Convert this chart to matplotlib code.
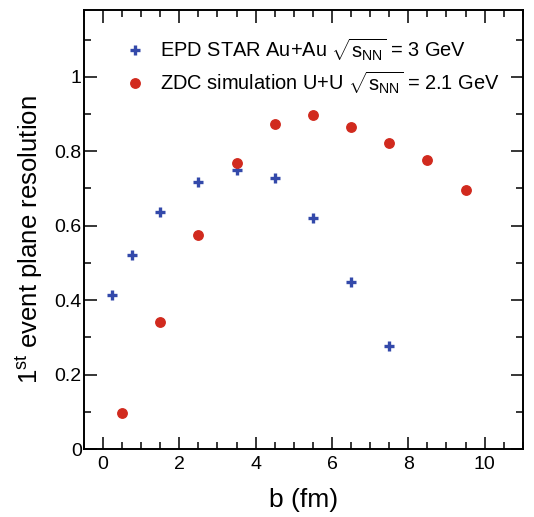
import numpy as np
import matplotlib
matplotlib.use("Agg")
import matplotlib.pyplot as plt
from matplotlib.ticker import MultipleLocator, FuncFormatter

plt.rcParams["font.family"] = ["Liberation Sans", "DejaVu Sans"]
plt.rcParams["mathtext.fontset"] = "custom"
plt.rcParams["mathtext.rm"] = "Liberation Sans"
plt.rcParams["mathtext.it"] = "Liberation Sans:italic"

# EPD STAR Au+Au, sqrt(sNN) = 3 GeV
epd_b = [0.25, 0.75, 1.5, 2.5, 3.5, 4.5, 5.5, 6.5, 7.5]
epd_res = [0.415, 0.521, 0.636, 0.717, 0.750, 0.727, 0.621, 0.450, 0.278]

# ZDC simulation U+U, sqrt(sNN) = 2.1 GeV
zdc_b = [0.5, 1.5, 2.5, 3.5, 4.5, 5.5, 6.5, 7.5, 8.5, 9.5]
zdc_res = [0.097, 0.342, 0.575, 0.768, 0.873, 0.897, 0.865, 0.823, 0.777, 0.697]

epd_label = r"EPD STAR Au+Au $\sqrt{\rm s_{NN}}$ = 3 GeV"
zdc_label = r"ZDC simulation U+U $\sqrt{\rm s_{NN}}$ = 2.1 GeV"


def main():
    fig = plt.figure(figsize=(5.34, 5.17), dpi=100)
    ax = fig.add_axes([0.157, 0.1315, 0.822, 0.8495])

    ax.plot(epd_b, epd_res, linestyle="none", marker="+", markersize=7,
            markeredgewidth=2.4, color="#3349aa", label=epd_label)
    ax.plot(zdc_b, zdc_res, linestyle="none", marker="o", markersize=6.8,
            color="#d12a1e", label=zdc_label)

    ax.set_xlim(-0.5, 11)
    ax.set_ylim(0, 1.18)

    ax.xaxis.set_major_locator(MultipleLocator(2))
    ax.xaxis.set_minor_locator(MultipleLocator(0.5))
    ax.yaxis.set_major_locator(MultipleLocator(0.2))
    ax.yaxis.set_minor_locator(MultipleLocator(0.1))
    ax.yaxis.set_major_formatter(FuncFormatter(lambda v, p: f"{v:g}"))

    ax.tick_params(which="both", direction="in", top=True, right=True,
                   labelsize=14, width=1.1)
    ax.tick_params(which="major", length=9)
    ax.tick_params(which="minor", length=4.8)
    ax.tick_params(axis="x", pad=5)
    ax.tick_params(axis="y", pad=1.5)
    for s in ax.spines.values():
        s.set_linewidth(1.4)

    ax.set_xlabel("b (fm)", fontsize=19, va="center")
    ax.xaxis.set_label_coords(0.5, -0.116)
    ax.set_ylabel(r"$1^{\rm st}$ event plane resolution", fontsize=18.5, va="center")
    ax.yaxis.set_label_coords(-0.124, 0.476)

    ax.legend(loc="upper left", bbox_to_anchor=(0.0934, 0.94), frameon=False,
              fontsize=14.4, handletextpad=0.75, labelspacing=0.3,
              handlelength=1.0, borderaxespad=0.0, borderpad=0.0)

    fig.savefig("out.png", dpi=100)
    plt.close(fig)


if __name__ == "__main__":
    main()
